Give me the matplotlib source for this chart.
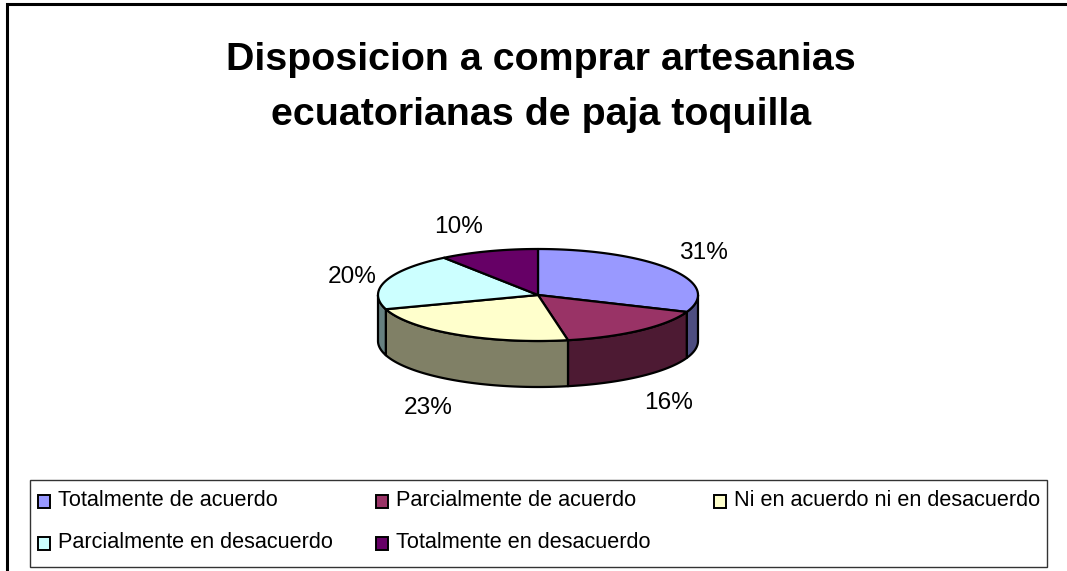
import matplotlib
matplotlib.use('Agg')
import matplotlib.pyplot as plt
from matplotlib.patches import Polygon, Rectangle
import numpy as np

plt.rcParams['font.family'] = ['Liberation Sans', 'DejaVu Sans']

titulo = 'Disposicion a comprar artesanias\necuatorianas de paja toquilla'
categorias = ['Totalmente de acuerdo', 'Parcialmente de acuerdo', 'Ni en acuerdo ni en desacuerdo',
              'Parcialmente en desacuerdo', 'Totalmente en desacuerdo']
valores = [31, 16, 23, 20, 10]
etiquetas = ['31%', '16%', '23%', '20%', '10%']
colores = ['#9999FF', '#993366', '#FFFFCC', '#CCFFFF', '#660066']
colores_lado = ['#4D4D80', '#4D1A33', '#808066', '#668080', '#330033']

# geometria del pastel, en pixeles de la imagen
cx, cy = 538, 295
rx, ry = 160, 46
prof = 46
pos_etiquetas = [(703, 253), (669, 403), (428, 408), (352, 277), (459, 227)]
pos_leyenda = [(37, 500), (375, 500), (713, 500), (37, 542), (375, 542)]

W, H = 1067, 571
fig = plt.figure(figsize=(W / 100, H / 100), dpi=100)
ax = fig.add_axes([0, 0, 1, 1])
ax.set_xlim(0, W)
ax.set_ylim(H, 0)
ax.axis('off')


def borde(t1, t2):
    # t en grados, horario desde las 12
    t = np.radians(np.linspace(t1, t2, max(int(t2 - t1), 2) + 1))
    return np.column_stack([cx + rx * np.sin(t), cy - ry * np.cos(t)])


# marco exterior y de la leyenda
ax.plot([7, 7, W], [H, 4, 4], color='black', lw=2.2, solid_joinstyle='miter')
ax.add_patch(Rectangle((30, 480), 1017, 87, fc='white', ec='#333333', lw=1))

cortes = np.concatenate([[0], np.cumsum(valores)]) * 3.6

# lados visibles: solo la mitad inferior de la elipse (90 a 270 grados)
for i in range(len(valores)):
    a = max(cortes[i], 90)
    b = min(cortes[i + 1], 270)
    if a >= b:
        continue
    arco = borde(a, b)
    abajo = arco[::-1] + [0, prof]
    ax.add_patch(Polygon(np.vstack([arco, abajo]), closed=True, fc=colores_lado[i],
                         ec='black', lw=1.6, joinstyle='round'))

# tapa
for i in range(len(valores)):
    arco = borde(cortes[i], cortes[i + 1])
    ax.add_patch(Polygon(np.vstack([[cx, cy], arco]), closed=True, fc=colores[i],
                         ec='black', lw=1.6, joinstyle='round'))

for (x, y), txt in zip(pos_etiquetas, etiquetas):
    ax.text(x, y, txt, fontsize=17.6, ha='center', va='center', color='black')

ax.text(541, 87.5, titulo, fontsize=28.4, fontweight='bold', ha='center', va='center',
        linespacing=1.65, color='black')

for (x, y), nombre, c in zip(pos_leyenda, categorias, colores):
    ax.add_patch(Rectangle((x + 1, y - 5), 12, 13, fc=c, ec='black', lw=1.4))
    ax.text(x + 21, y + 6.5, nombre, fontsize=15.6, ha='left', va='baseline', color='black')

fig.savefig('out.png', dpi=100)
